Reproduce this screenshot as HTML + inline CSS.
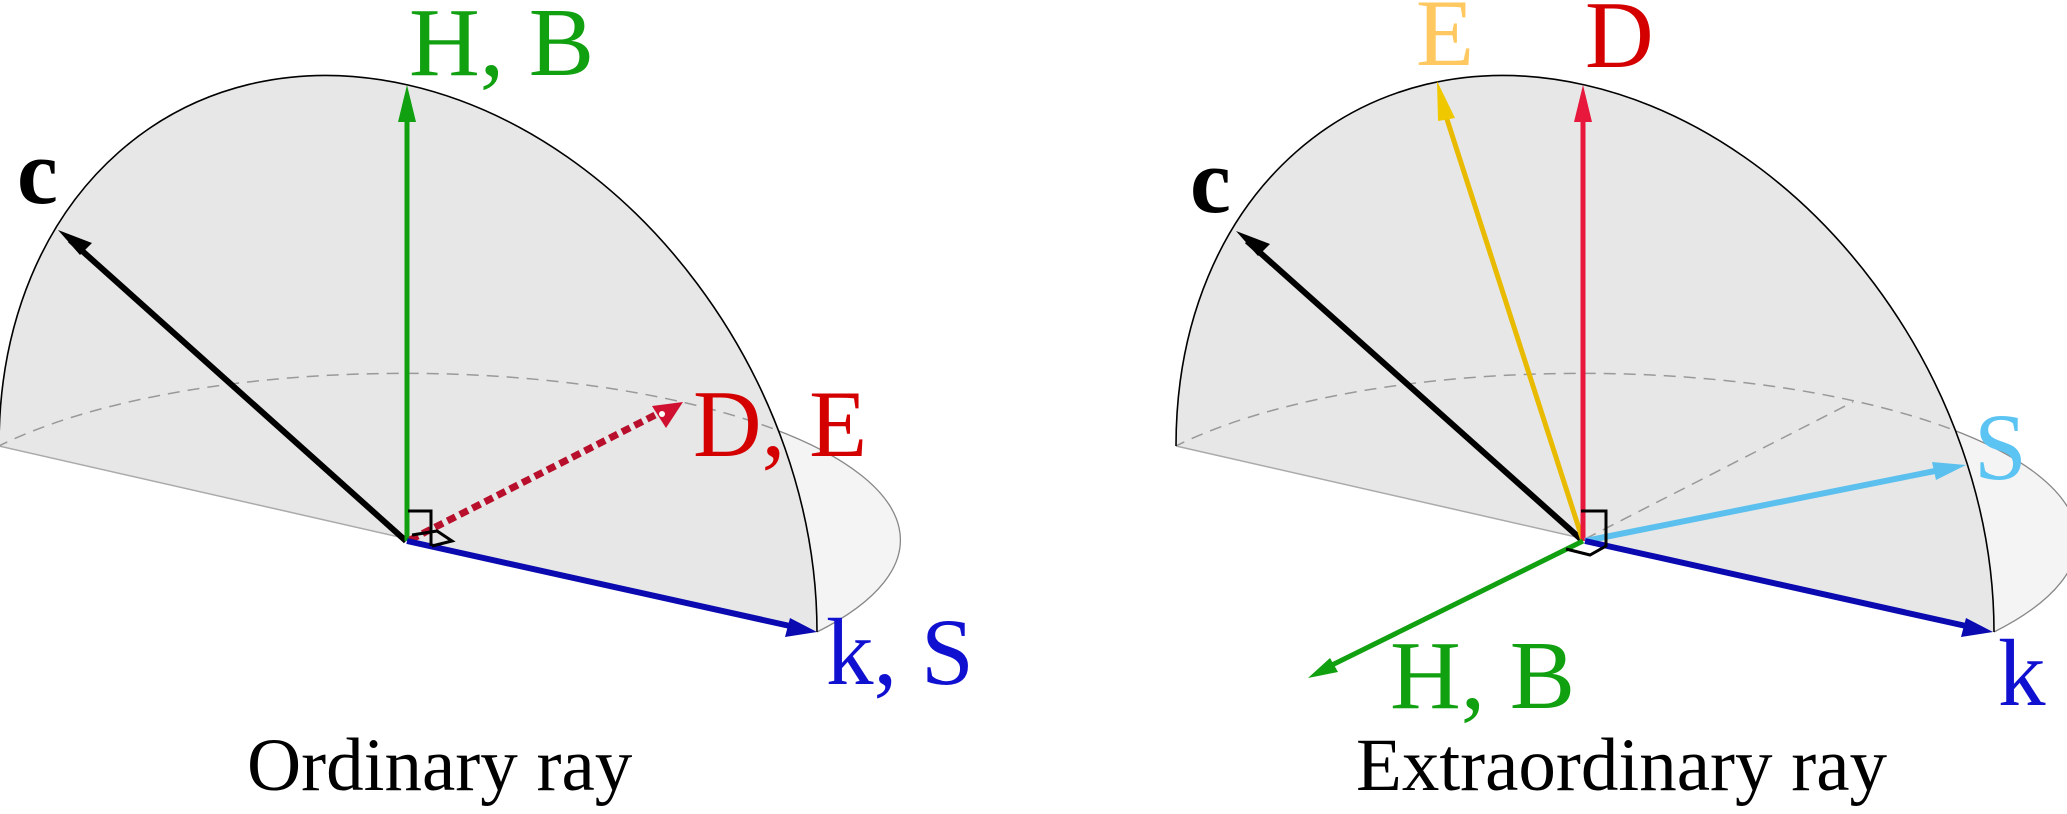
<!DOCTYPE html>
<html><head><meta charset="utf-8"><style>
html,body{margin:0;padding:0;background:#fff}
svg{display:block}
text{font-family:"Liberation Serif",serif}
</style></head><body>
<svg width="2067" height="814" viewBox="0 0 2067 814" xmlns="http://www.w3.org/2000/svg">
<defs>
<g id="hemi">
  <path d="M817,632 C878.1,601.4 907.1,564.8 899.1,527.9 C891.1,491 846.5,456.1 772.8,428.6 Z" fill="#f4f4f4"/>
  <path d="M817,632 C878.1,601.4 907.1,564.8 899.1,527.9 C891.1,491 846.5,456.1 772.8,428.6" fill="none" stroke="#888" stroke-width="1.3"/>
  <path d="M817,632 C817,381.2 633.9,136.4 408,85 C182.1,33.6 -1,195.2 -1,446 L408,539 Z" fill="#e7e7e7"/>
  <line x1="-1" y1="446" x2="408" y2="539" stroke="#aaa" stroke-width="1.5"/>
  <path d="M772.8,428.6 C671.1,390.6 523.2,370.3 372,373.7 C220.8,377.1 83.3,403.8 -1,446" fill="none" stroke="#999" stroke-width="1.5" stroke-dasharray="12 8"/>
  <path d="M817,632 C817,381.2 633.9,136.4 408,85 C182.1,33.6 -1,195.2 -1,446" fill="none" stroke="#000" stroke-width="1.6"/>
</g>
</defs>

<!-- LEFT -->
<use href="#hemi" x="0" y="0"/>
<g stroke-linecap="butt">
  <line x1="406" y1="541" x2="70" y2="240" stroke="#000" stroke-width="6"/>
  <path d="M58,230 L92,243 L80,255 Z" fill="#000"/>
  <line x1="407" y1="541" x2="407" y2="115" stroke="#10a010" stroke-width="5"/>
  <path d="M407,85 L416,122 L398,122 Z" fill="#10a010"/>
  <line x1="410" y1="540" x2="665" y2="410" stroke="#b8102c" stroke-width="7" stroke-dasharray="9 5"/>
  <path d="M683,402 L666,428 L652,406 Z" fill="#d01030"/>
  <circle cx="662" cy="414" r="3" fill="#fff"/>
  <line x1="407" y1="541" x2="790" y2="626" stroke="#0a0ab0" stroke-width="6"/>
  <path d="M817,632 L785,637 L790,618 Z" fill="#0a0ab0"/>
  <path d="M408,511 H431 V546 M412,535 L437,531 L452,541 L432,546" fill="none" stroke="#000" stroke-width="3"/>
</g>
<text x="17" y="203" font-size="92" font-weight="bold" fill="#000">c</text>
<text x="409" y="75" font-size="98" fill="#10a010">H, B</text>
<text x="693" y="456" font-size="95" fill="#d40000">D, E</text>
<text x="826" y="684" font-size="95" fill="#1010d0">k, S</text>
<text x="247" y="790" font-size="75" fill="#000">Ordinary ray</text>

<!-- RIGHT -->
<use href="#hemi" x="1177" y="0"/>
<line x1="1585" y1="539" x2="1853" y2="402" stroke="#999" stroke-width="1.5" stroke-dasharray="12 8"/>
<g>
  <line x1="1583" y1="541" x2="1247" y2="241" stroke="#000" stroke-width="6"/>
  <path d="M1236,231 L1270,244 L1258,256 Z" fill="#000"/>
  <line x1="1583" y1="541" x2="1444" y2="110" stroke="#e8bb00" stroke-width="5"/>
  <path d="M1437,81 L1455,118 L1438,121 Z" fill="#f0c800"/>
  <line x1="1583" y1="541" x2="1583" y2="115" stroke="#e8173c" stroke-width="5"/>
  <path d="M1583,85 L1592,122 L1574,122 Z" fill="#e8173c"/>
  <line x1="1585" y1="541" x2="1940" y2="470" stroke="#5cc0ee" stroke-width="6"/>
  <path d="M1966,465 L1936,480 L1932,462 Z" fill="#5cc0ee"/>
  <line x1="1585" y1="541" x2="1966" y2="626" stroke="#0a0ab0" stroke-width="6"/>
  <path d="M1993,632 L1961,637 L1966,618 Z" fill="#0a0ab0"/>
  <line x1="1583" y1="541" x2="1330" y2="666" stroke="#10a010" stroke-width="5"/>
  <path d="M1308,678 L1330,658 L1338,672 Z" fill="#10a010"/>
  <path d="M1581,511 H1606 V546 L1590,555 L1566,549" fill="none" stroke="#000" stroke-width="3"/>
</g>
<text x="1190" y="212" font-size="92" font-weight="bold" fill="#000">c</text>
<text x="1416" y="65" font-size="95" fill="#ffc860">E</text>
<text x="1585" y="67" font-size="95" fill="#d40000">D</text>
<text x="1974" y="479" font-size="95" fill="#5cc4f2">S</text>
<text x="1998" y="705" font-size="95" fill="#1010d0">k</text>
<text x="1390" y="708" font-size="98" fill="#10a010">H, B</text>
<text x="1356" y="790" font-size="75" fill="#000">Extraordinary ray</text>
</svg>
</body></html>
